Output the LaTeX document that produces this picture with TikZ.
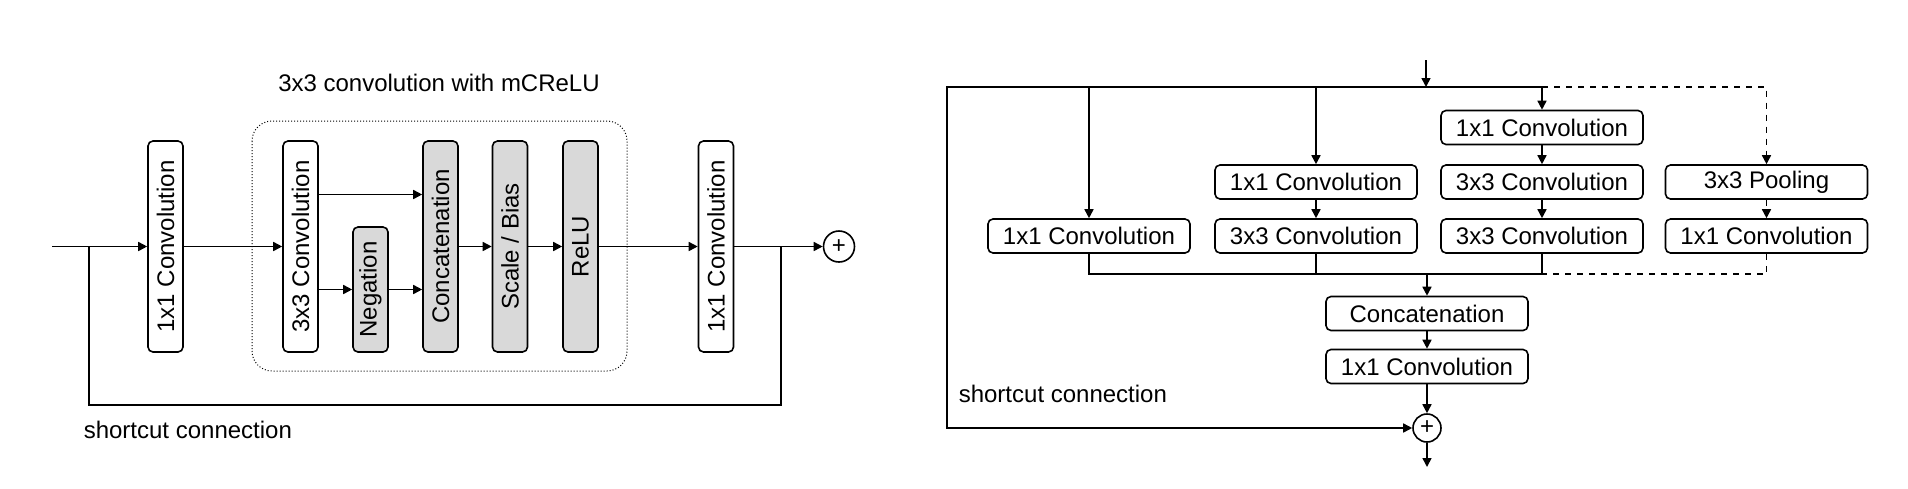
\documentclass[tikz,border=0pt]{standalone}
\usepackage{fontspec}
\setmainfont{Liberation Sans}
\usetikzlibrary{arrows.meta}
\definecolor{boxgray}{HTML}{D9D9D9}

\begin{document}
\begin{tikzpicture}[x=0.5pt, y=-0.5pt, line width=0.8pt, font=\fontsize{12}{14}\selectfont,
    box/.style = {draw, rounded corners=2.5pt, inner sep=0pt, minimum width=101pt, minimum height=17pt},
    vbox/.style = {draw, rounded corners=2.5pt, inner sep=0pt, minimum width=17.5pt, minimum height=105.5pt},
    gbox/.style = {vbox, fill=boxgray},
    addnode/.style = {draw, circle, inner sep=0pt, minimum size=15.5pt},
    arr/.style = {-{Triangle[length=4.5pt, width=4.5pt]}},
    label/.style = {anchor=west, inner sep=0pt}]
\useasboundingbox (0,0) rectangle (1908,488);

% left: block with mCReLU
\node (title) at (439,83) {3x3 convolution with mCReLU};
\draw[densely dotted, line width=0.5pt, rounded corners=10pt] (252,121) rectangle (627,371);

    \node[vbox] (c1) at (165.5,246.5) {\rotatebox{90}{1x1 Convolution}};
    \node[vbox] (conv3) at (300.5,246.5) {\rotatebox{90}{3x3 Convolution}};
    \node[gbox, minimum height=62.5pt] (neg) at (370.5,289.5) {\rotatebox{90}{Negation}};
    \node[gbox] (cat) at (440.5,246.5) {\rotatebox{90}{Concatenation}};
    \node[gbox] (sb) at (510,246.5) {\rotatebox{90}{Scale / Bias}};
    \node[gbox] (relu) at (580.5,246.5) {\rotatebox{90}{ReLU}};
    \node[vbox] (c2) at (716,246.5) {\rotatebox{90}{1x1 Convolution}};
    \node[addnode] (add1) at (839,246.5) {+};

\coordinate (lin) at (52,246.5);
\coordinate (lsplit) at (89,246.5);
\coordinate (lbot) at (89,405);
\coordinate (rsplit) at (781,246.5);

\draw[arr] (lin) -- (c1);
\draw[arr] (c1) -- (conv3);
\draw[arr] ([yshift=26pt]conv3.east) -- ([yshift=26pt]cat.west);
\draw[arr] (conv3.east |- neg.west) -- (neg.west);
\draw[arr] (neg.east) -- (cat.west |- neg.east);
\draw[arr] (cat) -- (sb);
\draw[arr] (sb) -- (relu);
\draw[arr] (relu) -- (c2);
\draw[arr] (c2) -- (add1);
\draw (lsplit) -- (lbot) -| (rsplit);
\node[label] (short1) at (83,430) {shortcut connection};

% right: inception block
    \node[box] (b1) at (1089,236) {1x1 Convolution};
    \node[box] (b2a) at (1316,182) {1x1 Convolution};
    \node[box] (b2b) at (1316,236) {3x3 Convolution};
    \node[box] (b3a) at (1542,127.5) {1x1 Convolution};
    \node[box] (b3b) at (1542,182) {3x3 Convolution};
    \node[box] (b3c) at (1542,236) {3x3 Convolution};
    \node[box] (b4a) at (1766.5,182) {3x3 Pooling};
    \node[box] (b4b) at (1766.5,236) {1x1 Convolution};
    \node[box] (cat2) at (1427,313.5) {Concatenation};
    \node[box] (c3) at (1427,366.5) {1x1 Convolution};
    \node[addnode, minimum size=14pt] (add2) at (1427,428) {+};

\coordinate (in) at (1426,60);
\coordinate (split) at (1426,87);
\coordinate (sc) at (947,428);
\coordinate (merge) at (1427,274);
\coordinate (out) at (1427,467);

\draw[arr] (in) -- (split);
\draw[arr] (b3a |- split) -- (sc |- split) -- (sc) -- (add2);
\draw[arr] (b1 |- split) -- (b1);
\draw[arr] (b2a |- split) -- (b2a);
\draw[arr] (b3a |- split) -- (b3a);
\draw[arr, dashed] (b3a |- split) -- (b4a |- split) -- (b4a);
\draw[arr] (b2a) -- (b2b);
\draw[arr] (b3a) -- (b3b);
\draw[arr] (b3b) -- (b3c);
\draw[arr, dashed] (b4a) -- (b4b);
\draw (b1) -- (b1 |- merge) -- (b3c |- merge) -- (b3c);
\draw (b2b) -- (b2b |- merge);
\draw[dashed] (b4b) -- (b4b |- merge) -- (b3c |- merge);
\draw[arr] (merge) -- (cat2);
\draw[arr] (cat2) -- (c3);
\draw[arr] (c3) -- (add2);
\draw[arr] (add2) -- (out);
\node[label] (short2) at (958,393.5) {shortcut connection};
\end{tikzpicture}
\end{document}
